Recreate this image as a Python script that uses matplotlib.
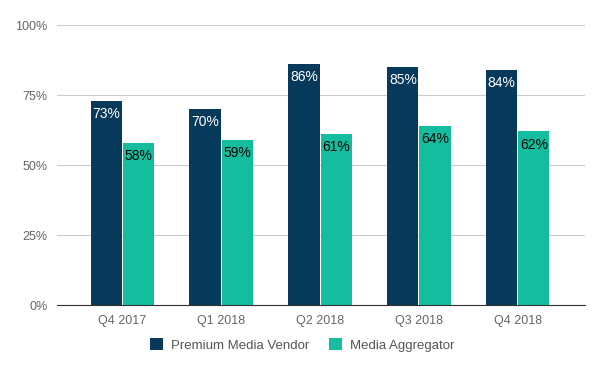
import matplotlib
matplotlib.use("Agg")
import matplotlib.pyplot as plt
import numpy as np

plt.rcParams['font.family'] = ['Liberation Sans', 'DejaVu Sans']

quarters = ["Q4 2017", "Q1 2018", "Q2 2018", "Q3 2018", "Q4 2018"]
premium = [73, 70, 86, 85, 84]
aggregator = [58, 59, 61, 64, 62]

navy = "#073a5a"
teal = "#14bd9e"

fig = plt.figure(figsize=(6.04, 3.71), dpi=100)
ax = fig.add_axes([57 / 604, 66 / 371, 528 / 604, 280 / 371])

x = np.arange(len(quarters))
w = 0.315
b1 = ax.bar(x - w / 2 - 0.005, premium, w, color=navy, label="Premium Media Vendor", zorder=3)
b2 = ax.bar(x + w / 2 + 0.005, aggregator, w, color=teal, label="Media Aggregator", zorder=3)

for rect, v in zip(b1, premium):
    ax.annotate(f"{v}%", (rect.get_x() + rect.get_width() / 2, v), xytext=(0, -9.5),
                textcoords="offset points", ha="center", va="center", fontsize=10,
                color="white", zorder=4)
for rect, v in zip(b2, aggregator):
    ax.annotate(f"{v}%", (rect.get_x() + rect.get_width() / 2, v), xytext=(0, -9.5),
                textcoords="offset points", ha="center", va="center", fontsize=10,
                color="black", zorder=4)

ax.set_xlim(-0.66, 4.68)
ax.set_ylim(0, 100)
ax.set_yticks([0, 25, 50, 75, 100])
ax.set_yticklabels(["0%", "25%", "50%", "75%", "100%"])
ax.set_xticks(x)
ax.set_xticklabels(quarters)
ax.tick_params(axis="both", length=0, labelsize=9, colors="#666666", pad=7)
ax.grid(axis="y", color="#cccccc", linewidth=0.8, zorder=0)
for s in ["top", "right", "left"]:
    ax.spines[s].set_visible(False)
ax.spines["bottom"].set_color("#333333")
ax.spines["bottom"].set_zorder(5)

leg = ax.legend(loc="center", bbox_to_anchor=(302 / 604, 26 / 371), bbox_transform=fig.transFigure,
                ncol=2, frameon=False, fontsize=9.5, handlelength=1.0, handleheight=1.0,
                columnspacing=1.5, handletextpad=0.6)
for t in leg.get_texts():
    t.set_color("#555555")

fig.savefig("out.png", dpi=100)
